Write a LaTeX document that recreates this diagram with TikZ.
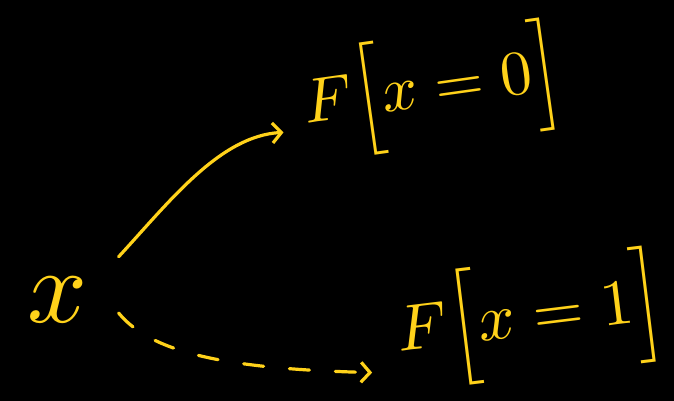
\documentclass[tikz,border=0pt]{standalone}
\usepackage{graphicx}
\usepackage{amsmath}
\usetikzlibrary{arrows.meta}
\definecolor{chalk}{HTML}{FFD21A}
\begin{document}
\begin{tikzpicture}[x=1pt,y=1pt,>={Straight Barb[length=9pt,width=20pt]},line width=3.2pt,line cap=round,
  chalk text/.style={text=chalk,inner sep=0pt}]
  % background and size
  \fill[black] (0,0) rectangle (674,401);
  \useasboundingbox (0,0) rectangle (674,401);

  % variable and the two evaluations
  \node[chalk text] (xv) at (58,101) {\scalebox{10.5}{$x$}};
  \node[chalk text,rotate=8] (Fz) at (433,311) {\scalebox{6.3}{$F\Big[x=0\Big]$}};
  \node[chalk text,rotate=7] (Fo) at (531,82) {\scalebox{6.5}{$F\Big[x=1\Big]$}};

  % arrows
  \coordinate (sz) at ([xshift=29pt,yshift=19pt]xv.north east);
  \coordinate (ez) at ([xshift=-19pt,yshift=-24pt]Fz.west);
  \coordinate (so) at ([xshift=29pt,yshift=-13pt]xv.east);
  \coordinate (eo) at ([xshift=-24pt,yshift=-37pt]Fo.west);
  \draw[chalk,->] (sz) .. controls (170,200) and (220,265) .. (ez);
  \draw[chalk,->,dash pattern=on 20pt off 26pt] (so) .. controls (150,50) and (220,32) .. (eo);
\end{tikzpicture}
\end{document}
